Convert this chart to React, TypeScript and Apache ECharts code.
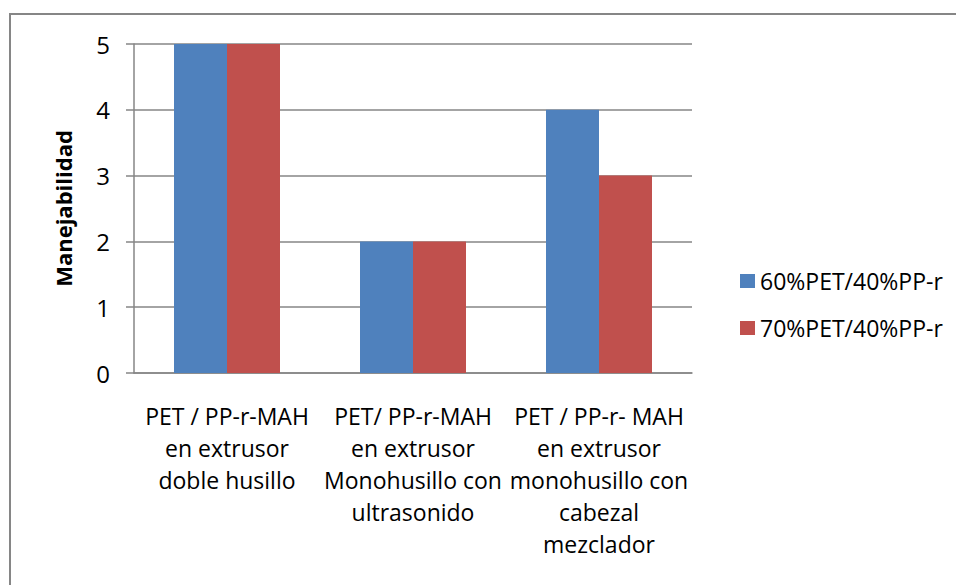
import React, { useEffect, useRef } from "react";
import * as echarts from "echarts";

const categories = [
  "PET / PP-r-MAH\nen extrusor\ndoble husillo",
  "PET/ PP-r-MAH\nen extrusor\nMonohusillo con\nultrasonido",
  "PET / PP-r- MAH\nen extrusor\nmonohusillo con\ncabezal\nmezclador",
];
const series60 = [5, 2, 4];
const series70 = [5, 2, 3];
const seriesNames = ["60%PET/40%PP-r", "70%PET/40%PP-r"];
const yAxisTitle = "Manejabilidad";

const FONT = "'Open Sans', 'Noto Sans', sans-serif";

export default function App() {
  const ref = useRef<HTMLDivElement>(null);
  useEffect(() => {
    if (!ref.current) return;
    const chart = echarts.init(ref.current, null, { renderer: "svg" });
    chart.setOption({
      animation: false,
      backgroundColor: "#ffffff",
      textStyle: { fontFamily: FONT },
      graphic: [
        {
          type: "rect",
          shape: { x: 10, y: 14, width: 1000, height: 1000 },
          style: { fill: "none", stroke: "#868686", lineWidth: 2 },
          silent: true,
        },
      ],
      grid: { left: 134, right: 264, top: 44, bottom: 212, containLabel: false },
      legend: {
        orient: "vertical",
        left: 735,
        top: 264,
        itemWidth: 15,
        itemHeight: 14,
        itemGap: 23,
        icon: "rect",
        textStyle: { fontSize: 23, color: "#000", fontFamily: FONT, lineHeight: 24 },
        data: seriesNames,
      },
      xAxis: {
        type: "category",
        data: categories,
        axisLine: { show: true, lineStyle: { color: "#868686", width: 1.5 } },
        axisTick: { show: false },
        axisLabel: {
          interval: 0,
          fontSize: 23,
          lineHeight: 32,
          color: "#000",
          margin: 27,
          fontFamily: FONT,
        },
      },
      yAxis: {
        type: "value",
        min: 0,
        max: 5,
        interval: 1,
        name: yAxisTitle,
        nameLocation: "middle",
        nameRotate: 90,
        nameGap: 60,
        nameTextStyle: { fontSize: 22, fontWeight: "bold", color: "#000", fontFamily: FONT },
        axisLine: { show: true, lineStyle: { color: "#868686", width: 1.5 } },
        axisTick: { show: true, length: 8, lineStyle: { color: "#868686", width: 1.5 } },
        splitLine: { show: true, lineStyle: { color: "#868686", width: 1.5 } },
        axisLabel: { fontSize: 24, color: "#000", margin: 24, fontFamily: FONT },
      },
      series: [
        {
          name: seriesNames[0],
          type: "bar",
          data: series60,
          barWidth: 53,
          barGap: "0%",
          itemStyle: { color: "#4F81BD" },
        },
        {
          name: seriesNames[1],
          type: "bar",
          data: series70,
          barWidth: 53,
          barGap: "0%",
          itemStyle: { color: "#C0504D" },
        },
      ],
    });
    return () => chart.dispose();
  }, []);
  return (
    <div
      ref={ref}
      style={{ position: "absolute", left: 0, top: 0, width: 956, height: 585 }}
    />
  );
}
